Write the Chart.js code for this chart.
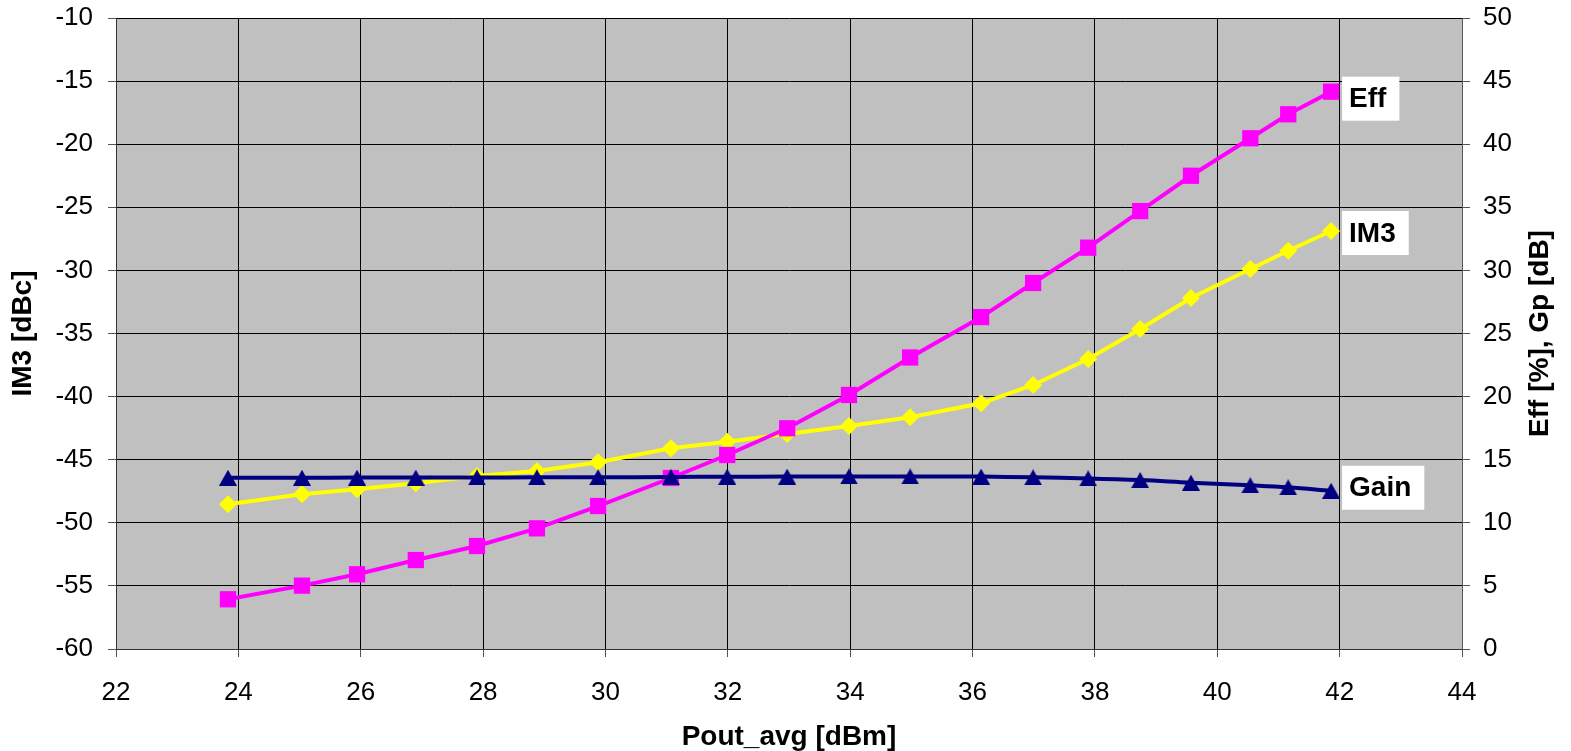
<!DOCTYPE html>
<html>
<head>
<meta charset="utf-8">
<script src="https://cdn.jsdelivr.net/npm/chart.js@4.4.1/dist/chart.umd.min.js"></script>
<style>
html,body{margin:0;padding:0;background:#fff;}
#wrap{width:1571px;height:751px;position:relative;}
</style>
</head>
<body>
<div id="wrap"><canvas id="c" width="1571" height="751"></canvas></div>
<script>
// ---- data ----
const poutAvg = [23.83, 25.04, 25.94, 26.90, 27.90, 28.88, 29.88, 31.07, 31.99, 32.97, 33.98, 34.98, 36.14, 36.99, 37.89, 38.74, 39.57, 40.54, 41.16, 41.86];
const im3 = [-48.53, -47.74, -47.35, -46.87, -46.29, -45.90, -45.20, -44.10, -43.57, -42.96, -42.33, -41.64, -40.53, -39.08, -37.02, -34.64, -32.19, -29.89, -28.44, -26.88];
const eff = [3.94, 5.02, 5.92, 7.05, 8.16, 9.56, 11.33, 13.55, 15.37, 17.49, 20.13, 23.10, 26.30, 29.00, 31.80, 34.70, 37.50, 40.47, 42.37, 44.16];
const gain = [13.57, 13.57, 13.58, 13.58, 13.59, 13.60, 13.61, 13.63, 13.65, 13.66, 13.67, 13.67, 13.66, 13.60, 13.52, 13.39, 13.18, 12.97, 12.81, 12.54];
const seriesNames = ['Gain', 'Eff', 'IM3'];
const xTitle = 'Pout_avg [dBm]';
const yLeftTitle = 'IM3 [dBc]';
const yRightTitle = 'Eff [%], Gp [dB]';

const FONT = '"Liberation Sans", Arial, sans-serif';

function pts(xs, ys){ return xs.map((x,i)=>({x:x, y:ys[i]})); }

// triangle marker (box-centred)
const tri = document.createElement('canvas');
tri.width = 18; tri.height = 16;
(function(){
  const g = tri.getContext('2d');
  g.fillStyle = '#000080';
  g.beginPath(); g.moveTo(0,16); g.lineTo(9,0); g.lineTo(18,16); g.closePath(); g.fill();
})();

const bgPlugin = {
  id: 'bg',
  beforeDraw(chart){
    const a = chart.chartArea, ctx = chart.ctx;
    ctx.save();
    ctx.fillStyle = '#C0C0C0';
    ctx.fillRect(a.left, a.top, a.right - a.left, a.bottom - a.top);
    ctx.restore();
  }
};

const labelPlugin = {
  id: 'endLabels',
  afterDatasetsDraw(chart){
    const ctx = chart.ctx;
    const offs = {Eff: 7, IM3: 2, Gain: -3};
    ctx.save();
    ctx.font = 'bold 28px ' + FONT;
    chart.data.datasets.forEach((ds, i) => {
      const meta = chart.getDatasetMeta(i);
      const el = meta.data[meta.data.length - 1];
      const t = ds.label;
      const w = ctx.measureText(t).width + 20;
      const h = 44;
      const cy = el.y + offs[t];
      const left = el.x + 11;
      ctx.fillStyle = '#fff';
      ctx.fillRect(left, cy - h/2, w, h);
      ctx.fillStyle = '#000';
      ctx.textBaseline = 'middle';
      ctx.textAlign = 'left';
      ctx.fillText(t, left + 7, cy + 1);
    });
    ctx.restore();
  }
};

const rightTitlePlugin = {
  id: 'rightTitle',
  afterDraw(chart){
    const ctx = chart.ctx;
    const a = chart.chartArea;
    ctx.save();
    ctx.font = 'bold 28px ' + FONT;
    ctx.fillStyle = '#000';
    ctx.textAlign = 'center';
    ctx.textBaseline = 'middle';
    ctx.translate(1540, (a.top + a.bottom)/2);
    ctx.rotate(-Math.PI/2);
    ctx.fillText(yRightTitle, 0, 0);
    ctx.restore();
  }
};

function fixV(w){ return function(s){ s.width = w; s.paddingTop = 0; s.paddingBottom = 0; }; }

new Chart(document.getElementById('c'), {
  type: 'line',
  data: {
    datasets: [
      {
        label: seriesNames[0], data: pts(poutAvg, gain), yAxisID: 'y2',
        borderColor: '#000080', backgroundColor: '#000080', borderWidth: 4,
        pointStyle: tri, pointRadius: 9, tension: 0.4, order: 0
      },
      {
        label: seriesNames[1], data: pts(poutAvg, eff), yAxisID: 'y2',
        borderColor: '#FF00FF', backgroundColor: '#FF00FF', borderWidth: 4,
        pointStyle: 'rect', pointRadius: 11.5, pointBorderWidth: 0, tension: 0, order: 1
      },
      {
        label: seriesNames[2], data: pts(poutAvg, im3), yAxisID: 'y',
        borderColor: '#FFFF00', backgroundColor: '#FFFF00', borderWidth: 4,
        pointStyle: 'rectRot', pointRadius: 9, pointBorderWidth: 0, tension: 0, order: 2
      }
    ]
  },
  options: {
    responsive: false,
    animation: false,
    layout: { padding: { top: 18, left: 0, right: 0, bottom: 0 } },
    plugins: { legend: { display: false }, tooltip: { enabled: false } },
    scales: {
      x: {
        type: 'linear', min: 22, max: 44,
        ticks: { stepSize: 2, color: '#000', font: { family: FONT, size: 26 }, padding: 20, maxRotation: 0 },
        grid: { color: '#000', lineWidth: 1, tickLength: 8, tickColor: '#555' },
        border: { color: '#333', width: 1 },
        title: { display: true, text: xTitle, color: '#000', font: { family: FONT, size: 28, weight: 'bold', lineHeight: 1 }, padding: { top: 0, bottom: 0 } },
        afterFit(s){ s.height = 102; s.paddingLeft = 0; s.paddingRight = 0; }
      },
      y: {
        position: 'left', min: -60, max: -10,
        ticks: { stepSize: 5, color: '#000', font: { family: FONT, size: 26 }, padding: 15 },
        grid: { color: '#000', lineWidth: 1, tickLength: 8, tickColor: '#555' },
        border: { color: '#333', width: 1 },
        title: { display: true, text: yLeftTitle, color: '#000', font: { family: FONT, size: 28, weight: 'bold', lineHeight: 1 }, padding: { top: 9, bottom: 0 } },
        afterFit: fixV(116)
      },
      y2: {
        position: 'right', min: 0, max: 50,
        ticks: { stepSize: 5, color: '#000', font: { family: FONT, size: 26 }, padding: 13 },
        grid: { drawOnChartArea: false, tickLength: 8, tickColor: '#555' },
        border: { color: '#555', width: 1 },
        afterFit: fixV(109)
      }
    }
  },
  plugins: [bgPlugin, labelPlugin, rightTitlePlugin]
});
</script>
</body>
</html>
